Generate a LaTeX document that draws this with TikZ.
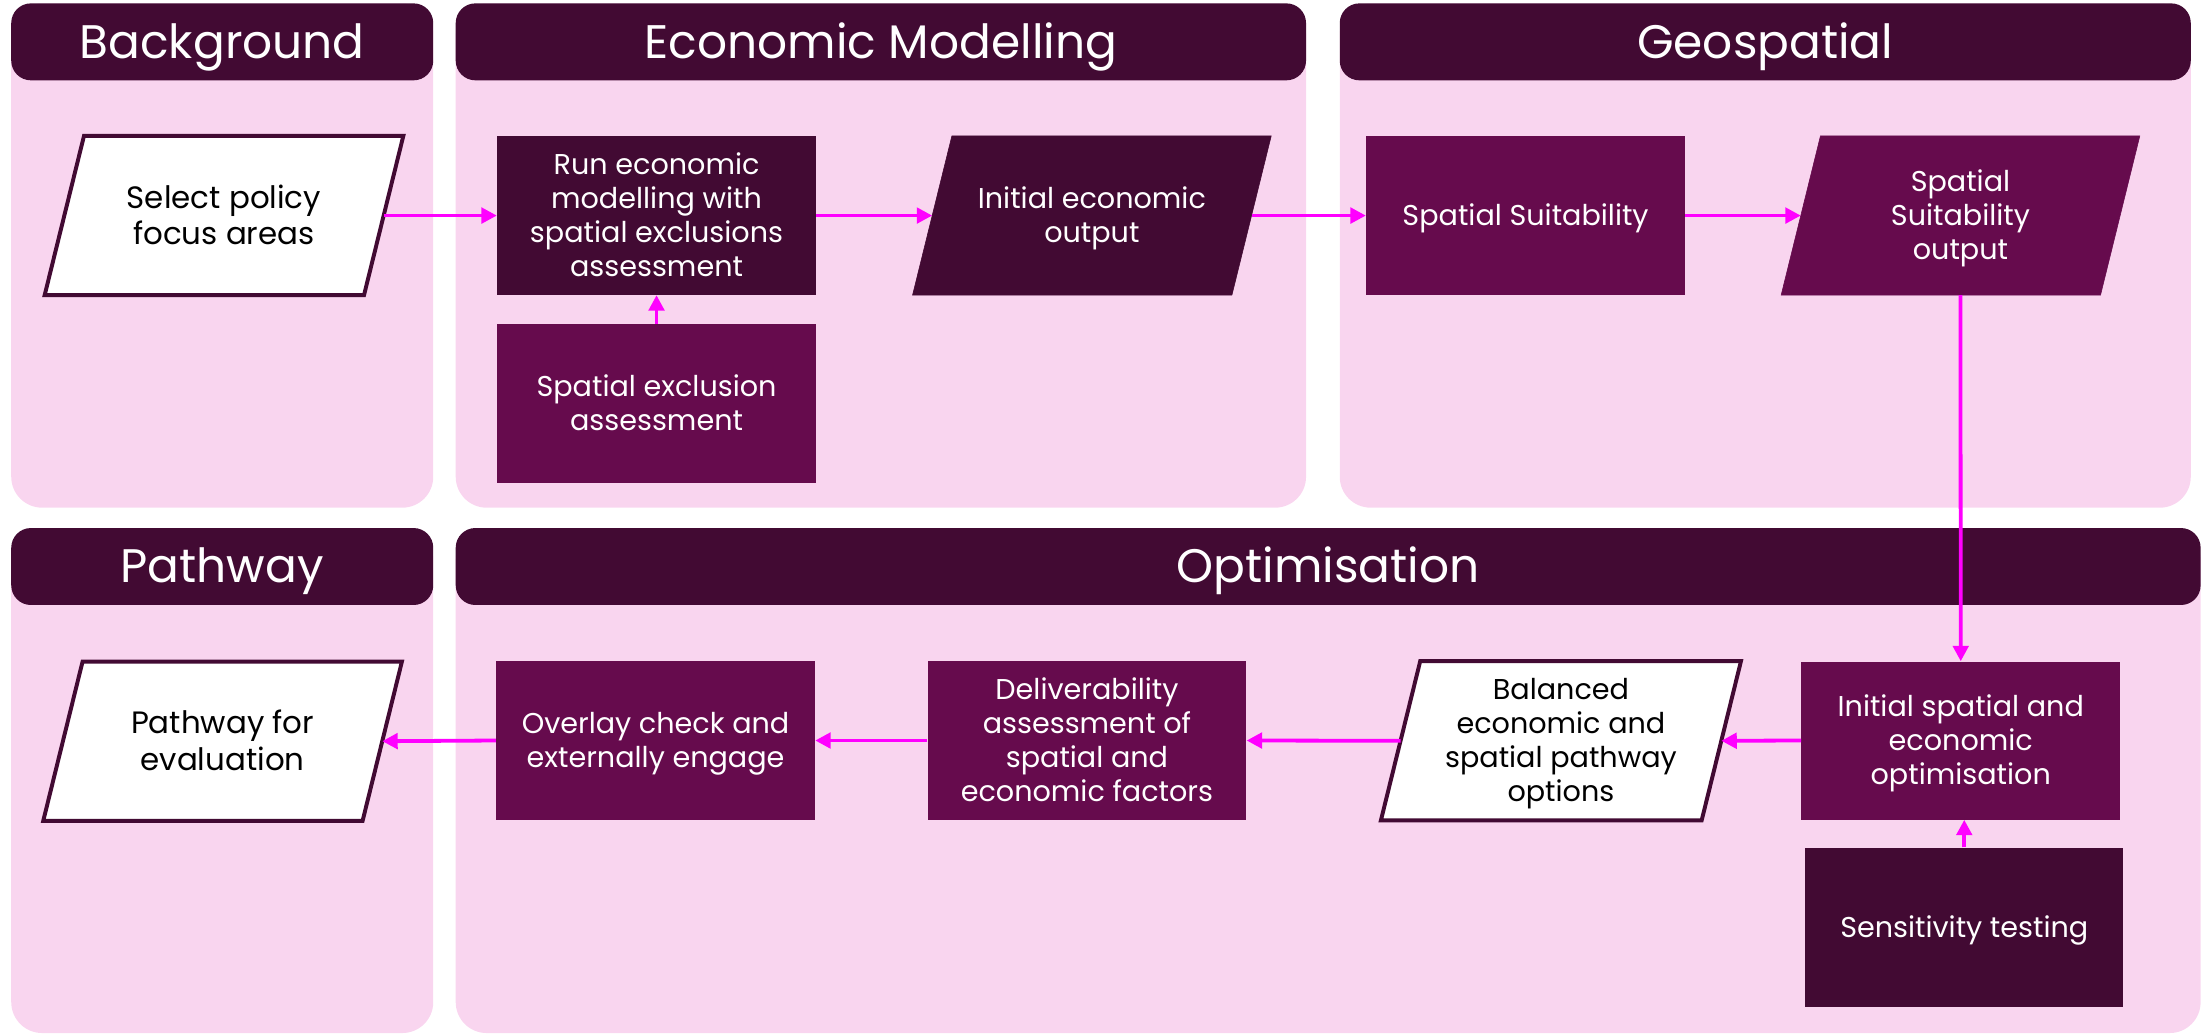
\documentclass[tikz,border=0pt]{standalone}
\usepackage{fontspec}
\setmainfont{Poppins}
\usetikzlibrary{calc,arrows.meta}
\pgfdeclarelayer{panels}
\pgfdeclarelayer{shapes}
\pgfsetlayers{panels,shapes,main}
\definecolor{dark}{HTML}{420A33}
\definecolor{mid}{HTML}{660B4D}
\definecolor{pinkbg}{HTML}{F9D5EF}
\definecolor{arrowc}{HTML}{FF00FF}
\begin{document}
\begin{tikzpicture}[x=1pt,y=-1pt,
  hdr/.style={rectangle, rounded corners=14pt, fill=dark, text=white, minimum height=54.8pt,
    font=\fontsize{33.5}{38}\selectfont, inner sep=0pt, text height=23.4pt, text depth=0pt},
  body/.style={fill=pinkbg, rounded corners=22pt},
  boxd/.style={rectangle, fill=dark, text=white, minimum width=227pt, minimum height=113pt,
    align=center, font=\fontsize{20.4}{24.2}\selectfont, inner sep=0pt, text depth=0pt},
  boxm/.style={boxd, fill=mid},
  para/.style={rectangle, minimum width=227pt, minimum height=113pt, align=center,
    font=\fontsize{20.4}{24.2}\selectfont, inner sep=0pt, text depth=0pt},
  bigtext/.style={font=\fontsize{22}{26}\selectfont, text height=41.4pt},
  lone/.style={text height=14.3pt},
  ltwo/.style={text height=38.5pt},
  lthree/.style={text height=62.7pt},
  lfour/.style={text height=86.9pt},
  conn/.style={draw=arrowc, line width=2.7pt, -{Triangle[length=11pt,width=11pt]}}
]
\useasboundingbox (0,0) rectangle (1568,735.6);

% panels
\begin{pgfonlayer}{panels}
  \fill[body] (8,2.5) rectangle (308.5,361.5);
  \fill[body] (324.5,2.5) rectangle (930,361.5);
  \fill[body] (954,2.5) rectangle (1560,361.5);
  \fill[body] (8,376.5) rectangle (308.5,735.6);
  \fill[body] (324.5,376.5) rectangle (1567,735.6);
\end{pgfonlayer}

\node[hdr, minimum width=300.5pt] (hbg) at (158.25,29.8) {Background};
\node[hdr, minimum width=605.5pt] (hec) at (627.25,29.8) {Economic Modelling};
\node[hdr, minimum width=606pt] (hgeo) at (1257,29.8) {Geospatial};
\node[hdr, minimum width=300.5pt] (hpw) at (158.25,403.4) {Pathway};
\node[hdr, minimum width=1242.5pt] (hopt) at (945.75,403.4) {Optimisation};

% nodes
\node[para, bigtext] (sel) at (159.5,153.5) {Select policy\\focus areas};
\node[boxd, lfour] (run) at (467.5,153.5) {Run economic\\modelling with\\spatial exclusions\\assessment};
\node[boxm, ltwo] (sex) at (467.5,287.5) {Spatial exclusion\\assessment};
\node[para, ltwo, text=white] (ieo) at (777.5,153.5) {Initial economic\\output};
\node[boxm, lone] (ss) at (1086.3,153.5) {Spatial Suitability};
\node[para, lthree, text=white] (sso) at (1396,153.5) {Spatial\\Suitability\\output};
\node[boxm, lthree, minimum width=227pt, minimum height=112.5pt] (isp) at (1396.2,527.3) {Initial spatial and\\economic\\optimisation};
\node[boxd, lone, minimum width=226.5pt, minimum height=113.8pt] (sens) at (1398.7,660.5) {Sensitivity testing};
\node[para, lfour, minimum width=228pt, minimum height=113pt] (bal) at (1111.5,527.5) {Balanced\\economic and\\spatial pathway\\options};
\node[boxm, lfour] (del) at (774,527.3) {Deliverability\\assessment of\\spatial and\\economic factors};
\node[boxm, ltwo] (ovl) at (466.8,527.3) {Overlay check and\\externally engage};
\node[para, bigtext] (pfe) at (158.5,527.8) {Pathway for\\evaluation};

% parallelogram outlines
\begin{pgfonlayer}{shapes}
  \foreach \n/\f/\d/\w in {sel/white/dark/2.8, ieo/dark/dark/0.4, sso/mid/mid/0.4, bal/white/dark/2.8, pfe/white/dark/2.8}{
    \path[fill=\f, draw=\d, line width=\w pt, line join=miter]
      ($(\n.north west)+(14,0)$) -- ($(\n.north east)+(14,0)$) --
      ($(\n.south east)+(-14,0)$) -- ($(\n.south west)+(-14,0)$) -- cycle;
  }
\end{pgfonlayer}

% connectors
\draw[conn] (sel.east) -- (run.west);
\draw[conn] (sex.north) -- (run.south);
\draw[conn] (run.east) -- (ieo.west);
\draw[conn] (ieo.east) -- (ss.west);
\draw[conn] (ss.east) -- (sso.west);
\draw[conn] (sso.south) -- (isp.north);
\draw[conn] (sens.north) -- (sens.north |- isp.south);
\draw[conn] (isp.west) -- (bal.east);
\draw[conn] (bal.west) -- (del.east);
\draw[conn] (del.west) -- (ovl.east);
\draw[conn] (ovl.west) -- (pfe.east);
\end{tikzpicture}
\end{document}
